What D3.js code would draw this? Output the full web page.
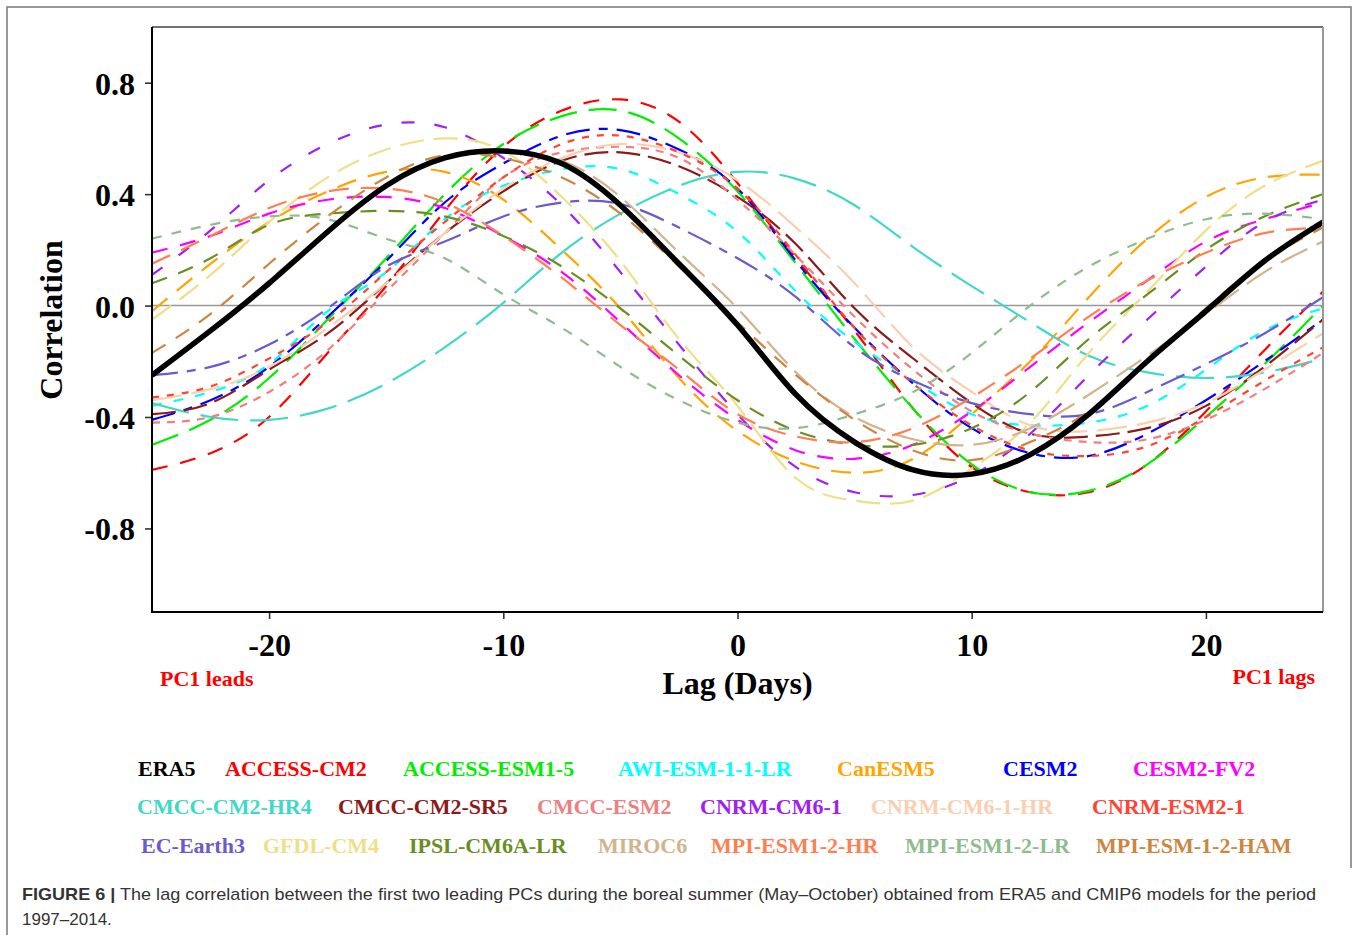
<!DOCTYPE html>
<html>
<head>
<meta charset="utf-8">
<script src="https://cdn.jsdelivr.net/npm/d3@7"></script>
<style>
  body { margin: 0; background: #fff; }
  svg { display: block; }
</style>
</head>
<body>
<svg id="chart" width="1358" height="935"></svg>
<script>
// Lag (days) at which every correlation curve is sampled
const lags = [-25, -22.5, -20, -17.5, -15, -12.5, -10, -7.5, -5, -2.5, 0,
              2.5, 5, 7.5, 10, 12.5, 15, 17.5, 20, 22.5, 25];

// Lag correlation between PC1 and PC2, one array per data set
const era5        = [-0.25,-0.09,0.08,0.265,0.43,0.53,0.555,0.51,0.36,0.15,-0.07,-0.32,-0.49,-0.59,-0.605,-0.535,-0.39,-0.20,-0.02,0.16,0.30];
const accessCm2   = [-0.59,-0.53,-0.40,-0.17,0.07,0.34,0.57,0.70,0.74,0.66,0.44,0.17,-0.09,-0.37,-0.58,-0.67,-0.67,-0.57,-0.38,-0.16,0.05];
const accessEsm15 = [-0.50,-0.41,-0.26,-0.05,0.17,0.40,0.58,0.68,0.70,0.60,0.41,0.15,-0.12,-0.37,-0.57,-0.67,-0.665,-0.57,-0.40,-0.21,0.00];
const awiEsm      = [-0.36,-0.31,-0.21,-0.02,0.12,0.31,0.43,0.49,0.49,0.40,0.265,0.05,-0.13,-0.27,-0.39,-0.43,-0.42,-0.36,-0.23,-0.09,-0.01];
const canEsm5     = [-0.02,0.15,0.30,0.41,0.48,0.48,0.38,0.20,-0.01,-0.26,-0.45,-0.56,-0.60,-0.55,-0.39,-0.20,0.03,0.24,0.39,0.46,0.47];
const cesm2       = [-0.41,-0.34,-0.22,-0.04,0.16,0.37,0.51,0.61,0.63,0.56,0.42,0.16,-0.08,-0.28,-0.44,-0.53,-0.54,-0.46,-0.34,-0.20,-0.05];
const cesm2Fv2    = [0.19,0.25,0.33,0.38,0.39,0.35,0.25,0.12,-0.06,-0.25,-0.41,-0.52,-0.55,-0.50,-0.38,-0.22,-0.06,0.09,0.23,0.31,0.37];
const cmccHr4     = [-0.35,-0.40,-0.41,-0.37,-0.28,-0.15,0.01,0.19,0.33,0.43,0.48,0.455,0.36,0.21,0.07,-0.06,-0.18,-0.24,-0.26,-0.24,-0.19];
const cmccSr5     = [-0.39,-0.35,-0.23,-0.10,0.08,0.26,0.41,0.52,0.55,0.50,0.39,0.22,-0.01,-0.19,-0.35,-0.46,-0.47,-0.44,-0.36,-0.22,-0.05];
const cmccEsm2    = [-0.42,-0.40,-0.31,-0.16,0.05,0.26,0.46,0.55,0.57,0.53,0.38,0.18,-0.04,-0.23,-0.38,-0.46,-0.49,-0.48,-0.41,-0.30,-0.17];
const cnrmCm6     = [0.11,0.27,0.45,0.58,0.65,0.64,0.53,0.36,0.12,-0.14,-0.39,-0.58,-0.67,-0.68,-0.61,-0.46,-0.25,-0.05,0.14,0.30,0.38];
const cnrmCm6Hr   = [-0.34,-0.30,-0.22,-0.08,0.08,0.26,0.42,0.53,0.58,0.55,0.45,0.28,0.08,-0.15,-0.31,-0.43,-0.45,-0.42,-0.35,-0.23,-0.10];
const cnrmEsm21   = [-0.33,-0.29,-0.19,-0.06,0.12,0.30,0.46,0.58,0.61,0.55,0.42,0.18,-0.08,-0.28,-0.43,-0.52,-0.54,-0.505,-0.40,-0.27,-0.15];
const ecEarth3    = [-0.25,-0.22,-0.14,-0.01,0.14,0.23,0.32,0.37,0.365,0.28,0.17,0.03,-0.15,-0.27,-0.35,-0.39,-0.39,-0.31,-0.21,-0.10,0.03];
const gfdlCm4     = [-0.05,0.11,0.30,0.46,0.56,0.60,0.555,0.39,0.16,-0.12,-0.36,-0.62,-0.70,-0.70,-0.585,-0.42,-0.17,0.05,0.27,0.43,0.52];
const ipslCm6a    = [0.08,0.17,0.29,0.33,0.34,0.32,0.25,0.14,-0.01,-0.18,-0.34,-0.45,-0.50,-0.50,-0.44,-0.31,-0.12,0.04,0.20,0.32,0.40];
const miroc6      = [-0.25,-0.09,0.09,0.27,0.43,0.53,0.55,0.52,0.39,0.19,-0.01,-0.24,-0.40,-0.48,-0.50,-0.44,-0.32,-0.18,-0.03,0.12,0.23];
const mpiHr       = [0.15,0.25,0.35,0.41,0.42,0.37,0.25,0.10,-0.07,-0.23,-0.39,-0.47,-0.49,-0.44,-0.33,-0.19,-0.04,0.09,0.19,0.26,0.28];
const mpiLr       = [0.24,0.29,0.32,0.31,0.24,0.17,0.04,-0.08,-0.22,-0.34,-0.42,-0.44,-0.39,-0.31,-0.17,0.00,0.14,0.24,0.31,0.33,0.31];
const mpiHam      = [-0.17,-0.03,0.15,0.32,0.46,0.54,0.53,0.46,0.33,0.14,-0.06,-0.25,-0.41,-0.52,-0.555,-0.49,-0.38,-0.20,-0.01,0.16,0.28];

// Names in legend order
const names = ["ERA5","ACCESS-CM2","ACCESS-ESM1-5","AWI-ESM-1-1-LR","CanESM5","CESM2","CESM2-FV2",
               "CMCC-CM2-HR4","CMCC-CM2-SR5","CMCC-ESM2","CNRM-CM6-1","CNRM-CM6-1-HR","CNRM-ESM2-1",
               "EC-Earth3","GFDL-CM4","IPSL-CM6A-LR","MIROC6","MPI-ESM1-2-HR","MPI-ESM1-2-LR","MPI-ESM-1-2-HAM"];
const values = [era5, accessCm2, accessEsm15, awiEsm, canEsm5, cesm2, cesm2Fv2,
                cmccHr4, cmccSr5, cmccEsm2, cnrmCm6, cnrmCm6Hr, cnrmEsm21,
                ecEarth3, gfdlCm4, ipslCm6a, miroc6, mpiHr, mpiLr, mpiHam];

const yTicks = [-0.8, -0.4, 0.0, 0.4, 0.8];
const xTicks = [-20, -10, 0, 10, 20];

// Line appearance per data set
const style = {
  "ERA5":            { color: "#000000", dash: null,        width: 5.5 },
  "ACCESS-CM2":      { color: "#FF0000", dash: "16,13" },
  "ACCESS-ESM1-5":   { color: "#00EE00", dash: "28,12" },
  "AWI-ESM-1-1-LR":  { color: "#00FFFF", dash: "10,12" },
  "CanESM5":         { color: "#FFA500", dash: "20,12" },
  "CESM2":           { color: "#0000FF", dash: "24,9,9,9" },
  "CESM2-FV2":       { color: "#FF00FF", dash: "16,13" },
  "CMCC-CM2-HR4":    { color: "#40D8C8", dash: "38,12" },
  "CMCC-CM2-SR5":    { color: "#8B1A1A", dash: "24,8" },
  "CMCC-ESM2":       { color: "#F08080", dash: "8,7" },
  "CNRM-CM6-1":      { color: "#A020F0", dash: "13,20" },
  "CNRM-CM6-1-HR":   { color: "#F9CFAF", dash: "30,10" },
  "CNRM-ESM2-1":     { color: "#FF4433", dash: "7,8" },
  "EC-Earth3":       { color: "#6A5ACD", dash: "26,9,9,9" },
  "GFDL-CM4":        { color: "#EEDF88", dash: "24,10" },
  "IPSL-CM6A-LR":    { color: "#6B8E23", dash: "16,12" },
  "MIROC6":          { color: "#D2B48C", dash: "30,10" },
  "MPI-ESM1-2-HR":   { color: "#FF7F50", dash: "20,12" },
  "MPI-ESM1-2-LR":   { color: "#8FBC8F", dash: "10,10" },
  "MPI-ESM-1-2-HAM": { color: "#CD853F", dash: "16,12" }
};

const series = names.map((n, i) => ({ name: n, points: lags.map((l, j) => ({ lag: l, r: values[i][j] })) }));

const serif = "'Liberation Serif', 'Times New Roman', Times, serif";
const sans = "'Liberation Sans', Arial, Helvetica, sans-serif";

const svg = d3.select("#chart");
const plot = { left: 152, right: 1323, top: 27, bottom: 612 };

const x = d3.scaleLinear().domain([-25, 25]).range([plot.left, plot.right]);
const y = d3.scaleLinear().domain([-1.1, 1.0]).range([plot.bottom, plot.top]);

// Figure frame
svg.append("path")
  .attr("d", "M7,935 L7,7 L1351,7 L1351,868")
  .attr("fill", "none").attr("stroke", "#777").attr("stroke-width", 1.5);

svg.append("defs").append("clipPath").attr("id", "plotClip")
  .append("rect")
  .attr("x", plot.left + 1).attr("y", plot.top)
  .attr("width", plot.right - plot.left - 1).attr("height", plot.bottom - plot.top);

// Zero reference line
svg.append("line")
  .attr("x1", plot.left).attr("x2", plot.right)
  .attr("y1", y(0)).attr("y2", y(0))
  .attr("stroke", "#999").attr("stroke-width", 1.6);

// Curves: models first, ERA5 on top
const line = d3.line().x(d => x(d.lag)).y(d => y(d.r)).curve(d3.curveNatural);
const curves = svg.append("g").attr("clip-path", "url(#plotClip)");
const drawOrder = series.slice(1).concat([series[0]]);
curves.selectAll("path.curve")
  .data(drawOrder)
  .join("path")
  .attr("class", "curve")
  .attr("d", d => line(d.points))
  .attr("fill", "none")
  .attr("stroke", d => style[d.name].color)
  .attr("stroke-width", d => style[d.name].width || 2.2)
  .attr("stroke-dasharray", d => style[d.name].dash)
  .attr("stroke-linecap", "butt");

// Axes
const yAxis = d3.axisLeft(y).tickValues(yTicks).tickFormat(d => d.toFixed(1)).tickSize(7).tickSizeOuter(0).tickPadding(10);
const xAxis = d3.axisBottom(x).tickValues(xTicks).tickFormat(d => String(d)).tickSize(7).tickSizeOuter(0).tickPadding(8);

const gy = svg.append("g").attr("transform", `translate(${plot.left},0)`).call(yAxis);
const gx = svg.append("g").attr("transform", `translate(0,${plot.bottom})`).call(xAxis);

[gx, gy].forEach(g => {
  g.select(".domain").remove();
  g.selectAll(".tick line").attr("stroke", "#333").attr("stroke-width", 1.6);
  g.selectAll(".tick text")
    .attr("fill", "#000")
    .style("font-family", serif)
    .style("font-weight", "bold")
    .style("font-size", "32px");
});
gy.selectAll(".tick text").attr("dy", "0.36em");
gx.selectAll(".tick text").attr("dy", "0.9em");

// Plot box: dark left and bottom axes, lighter top and right edges
const box = svg.append("g").attr("fill", "none");
box.append("line").attr("x1", plot.left).attr("x2", plot.right)
  .attr("y1", plot.top).attr("y2", plot.top)
  .attr("stroke", "#444").attr("stroke-width", 1.5);
box.append("line").attr("x1", plot.right).attr("x2", plot.right)
  .attr("y1", plot.top).attr("y2", plot.bottom)
  .attr("stroke", "#999").attr("stroke-width", 2);
box.append("line").attr("x1", plot.left).attr("x2", plot.left)
  .attr("y1", plot.top).attr("y2", plot.bottom + 1)
  .attr("stroke", "#000").attr("stroke-width", 2);
box.append("line").attr("x1", plot.left - 1).attr("x2", plot.right)
  .attr("y1", plot.bottom).attr("y2", plot.bottom)
  .attr("stroke", "#000").attr("stroke-width", 2);

// Axis titles
svg.append("text")
  .attr("transform", "translate(62,320) rotate(-90)")
  .attr("text-anchor", "middle")
  .style("font-family", serif).style("font-weight", "bold").style("font-size", "32px")
  .text("Correlation");

svg.append("text")
  .attr("x", x(0)).attr("y", 694)
  .attr("text-anchor", "middle")
  .style("font-family", serif).style("font-weight", "bold").style("font-size", "32px")
  .text("Lag (Days)");

svg.append("text")
  .attr("x", 160).attr("y", 686)
  .attr("fill", "#FF0000")
  .style("font-family", serif).style("font-weight", "bold").style("font-size", "22px")
  .text("PC1 leads");

svg.append("text")
  .attr("x", 1315).attr("y", 684)
  .attr("text-anchor", "end")
  .attr("fill", "#FF0000")
  .style("font-family", serif).style("font-weight", "bold").style("font-size", "22px")
  .text("PC1 lags");

// Legend: three rows of coloured names
const legendRows = [names.slice(0, 7), names.slice(7, 13), names.slice(13)];
const legendY = [776, 814, 853];
const legendX = [
  [138, 225, 403, 618, 837, 1003, 1133],
  [137, 338, 537, 700, 871, 1092],
  [141, 263, 409, 598, 711, 905, 1096]
];
const legend = svg.append("g");
legendRows.forEach((row, r) => {
  legend.selectAll(null)
    .data(row)
    .join("text")
    .attr("x", (d, i) => legendX[r][i])
    .attr("y", legendY[r])
    .attr("fill", d => style[d].color)
    .style("font-family", serif).style("font-weight", "bold").style("font-size", "22px")
    .text(d => d);
});

// Caption
const cap = svg.append("text")
  .attr("x", 22).attr("y", 900)
  .attr("fill", "#333")
  .attr("textLength", 1294)
  .attr("lengthAdjust", "spacingAndGlyphs")
  .style("font-family", sans).style("font-size", "17px");
cap.append("tspan").style("font-weight", "bold").text("FIGURE 6 |");
cap.append("tspan").text(" The lag correlation between the first two leading PCs during the boreal summer (May\u2013October) obtained from ERA5 and CMIP6 models for the period");

svg.append("text")
  .attr("x", 22).attr("y", 925)
  .attr("fill", "#333")
  .style("font-family", sans).style("font-size", "17px")
  .text("1997\u20132014.");
</script>
</body>
</html>
